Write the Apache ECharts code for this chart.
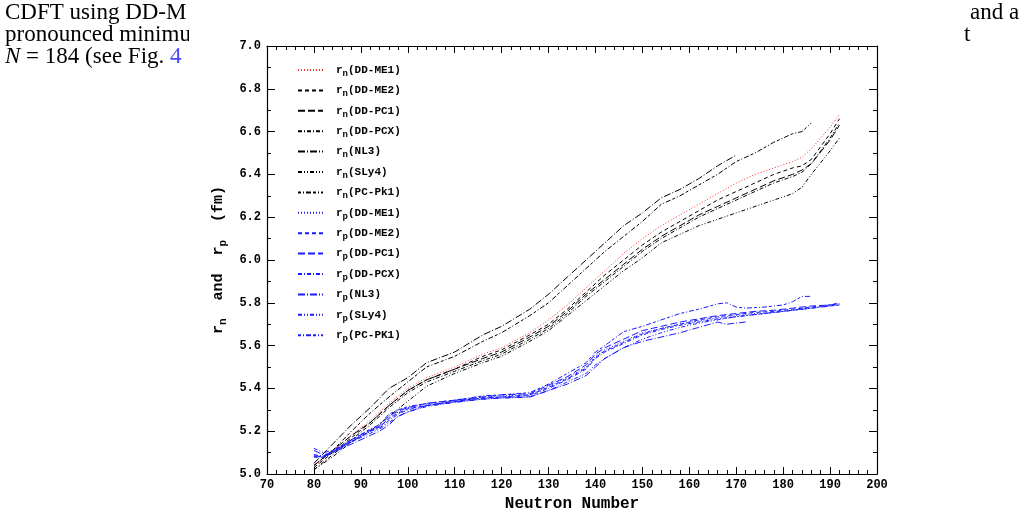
<!DOCTYPE html>
<html>
<head>
<meta charset="utf-8">
<script src="https://cdn.jsdelivr.net/npm/echarts@6/dist/echarts.min.js"></script>
<style>
  html, body { margin: 0; padding: 0; background: #fff; }
  #chart { width: 1027px; height: 514px; }
</style>
</head>
<body>
<div id="chart"></div>
<script>
// neutron radii r_n, [N, r (fm)]
const rnDDME1 = [[80,5.03],[84,5.11],[88,5.18],[92,5.25],[96,5.33],[100,5.40],[104,5.45],[110,5.50],[116,5.56],[120,5.59],[126,5.66],[130,5.72],[134,5.79],[138,5.87],[142,5.95],[146,6.03],[150,6.10],[154,6.16],[158,6.21],[162,6.26],[166,6.31],[170,6.36],[174,6.40],[178,6.43],[182,6.46],[184,6.48],[186,6.52],[190,6.62],[192,6.68]];
const rnDDME2 = [[80,5.03],[84,5.10],[88,5.17],[92,5.24],[96,5.32],[100,5.39],[104,5.44],[110,5.49],[116,5.55],[120,5.58],[126,5.65],[130,5.70],[134,5.77],[138,5.85],[142,5.93],[146,6.00],[150,6.07],[154,6.13],[158,6.18],[162,6.23],[166,6.28],[170,6.32],[174,6.36],[178,6.40],[182,6.43],[184,6.44],[186,6.47],[190,6.59],[192,6.66]];
const rnDDPC1 = [[80,5.04],[84,5.11],[88,5.18],[92,5.24],[96,5.32],[100,5.39],[104,5.44],[110,5.49],[116,5.54],[120,5.57],[126,5.64],[130,5.69],[134,5.76],[138,5.84],[142,5.91],[146,5.98],[150,6.05],[154,6.11],[158,6.16],[162,6.21],[166,6.25],[170,6.29],[174,6.33],[178,6.37],[182,6.40],[184,6.42],[186,6.45],[190,6.56],[192,6.63]];
const rnDDPCX = [[80,5.02],[84,5.09],[88,5.16],[92,5.23],[96,5.31],[100,5.38],[104,5.43],[110,5.48],[116,5.53],[120,5.56],[126,5.63],[130,5.68],[134,5.75],[138,5.83],[142,5.90],[146,5.97],[150,6.04],[154,6.10],[158,6.15],[162,6.20],[166,6.24],[170,6.28],[174,6.32],[178,6.36],[182,6.39],[184,6.41],[186,6.45],[190,6.57],[192,6.64]];
const rnNL3 = [[80,5.05],[84,5.14],[88,5.23],[92,5.31],[96,5.40],[100,5.45],[104,5.52],[110,5.57],[116,5.65],[120,5.69],[126,5.77],[130,5.84],[134,5.92],[138,6.00],[142,6.08],[146,6.16],[150,6.22],[154,6.29],[158,6.33],[162,6.38],[166,6.44],[170,6.49]];
const rnSLy4 = [[80,5.02],[84,5.08],[88,5.15],[92,5.20],[96,5.27],[100,5.34],[104,5.41],[110,5.47],[116,5.52],[120,5.55],[126,5.62],[130,5.67],[134,5.74],[138,5.81],[142,5.88],[146,5.95],[150,6.01],[154,6.08],[158,6.12],[162,6.16],[166,6.19],[170,6.22],[174,6.25],[178,6.28],[182,6.31],[184,6.34],[186,6.40],[190,6.51],[192,6.57]];
const rnPCPK1 = [[80,5.04],[84,5.11],[88,5.20],[92,5.285],[96,5.36],[100,5.43],[104,5.50],[110,5.55],[116,5.62],[120,5.66],[126,5.74],[130,5.80],[134,5.88],[138,5.96],[142,6.04],[146,6.11],[150,6.18],[154,6.26],[158,6.30],[162,6.35],[166,6.40],[170,6.46],[174,6.50],[178,6.55],[182,6.59],[184,6.60],[186,6.64]];

// proton radii r_p
const rpDDME1 = [[80,5.09],[82,5.08],[84,5.10],[88,5.15],[92,5.20],[94,5.22],[96,5.26],[98,5.29],[100,5.31],[104,5.325],[110,5.34],[116,5.36],[120,5.365],[126,5.37],[130,5.41],[134,5.45],[138,5.50],[140,5.55],[142,5.58],[146,5.62],[150,5.66],[154,5.68],[158,5.70],[162,5.715],[166,5.73],[170,5.74],[174,5.75],[178,5.755],[182,5.765],[186,5.775],[190,5.79],[192,5.795]];
const rpDDME2 = [[80,5.08],[82,5.075],[84,5.10],[88,5.15],[92,5.20],[94,5.22],[96,5.26],[98,5.285],[100,5.305],[104,5.32],[110,5.34],[116,5.355],[120,5.36],[126,5.37],[130,5.405],[134,5.445],[138,5.495],[140,5.545],[142,5.575],[146,5.615],[150,5.655],[154,5.68],[158,5.70],[162,5.72],[166,5.735],[170,5.745],[174,5.755],[178,5.76],[182,5.77],[186,5.78],[190,5.79],[192,5.80]];
const rpDDPC1 = [[80,5.085],[82,5.08],[84,5.10],[88,5.16],[92,5.205],[94,5.225],[96,5.27],[98,5.295],[100,5.31],[104,5.33],[110,5.345],[116,5.36],[120,5.37],[126,5.375],[130,5.415],[134,5.455],[138,5.51],[140,5.56],[142,5.59],[146,5.63],[150,5.67],[154,5.69],[158,5.71],[162,5.725],[166,5.74],[170,5.75],[174,5.76],[178,5.765],[182,5.775],[186,5.785],[190,5.79],[192,5.795]];
const rpDDPCX = [[80,5.09],[82,5.085],[84,5.105],[88,5.155],[92,5.20],[94,5.215],[96,5.25],[98,5.28],[100,5.30],[104,5.32],[110,5.34],[116,5.355],[120,5.36],[126,5.365],[130,5.40],[134,5.44],[138,5.49],[140,5.54],[142,5.57],[146,5.61],[150,5.65],[154,5.675],[158,5.695],[162,5.71],[166,5.725],[170,5.735],[174,5.745],[178,5.755],[182,5.765],[186,5.775],[190,5.785],[192,5.79]];
const rpNL3 = [[80,5.11],[82,5.09],[84,5.10],[88,5.14],[92,5.18],[94,5.20],[96,5.23],[98,5.27],[100,5.29],[104,5.32],[110,5.335],[116,5.35],[120,5.355],[126,5.36],[130,5.39],[134,5.42],[138,5.46],[140,5.50],[142,5.54],[146,5.59],[150,5.62],[154,5.64],[158,5.66],[162,5.685],[166,5.71],[168,5.70],[170,5.705],[172,5.71]];
const rpSLy4 = [[80,5.12],[82,5.10],[84,5.11],[88,5.15],[92,5.19],[94,5.21],[96,5.24],[98,5.27],[100,5.29],[104,5.315],[110,5.335],[116,5.35],[120,5.355],[126,5.36],[130,5.39],[134,5.43],[138,5.47],[140,5.51],[142,5.54],[146,5.59],[150,5.63],[154,5.66],[158,5.685],[162,5.705],[166,5.72],[170,5.735],[174,5.745],[178,5.755],[182,5.765],[186,5.775],[190,5.785],[192,5.79]];
const rpPCPK1 = [[80,5.08],[82,5.08],[84,5.11],[88,5.16],[92,5.21],[94,5.23],[96,5.28],[98,5.30],[100,5.315],[104,5.33],[110,5.345],[116,5.365],[120,5.37],[126,5.38],[130,5.42],[134,5.47],[138,5.52],[140,5.57],[142,5.60],[146,5.665],[150,5.69],[154,5.72],[158,5.75],[162,5.77],[166,5.795],[168,5.80],[170,5.78],[172,5.775],[176,5.78],[180,5.79],[182,5.805],[184,5.83],[186,5.83]];

const seriesNames = ["r_n(DD-ME1)","r_n(DD-ME2)","r_n(DD-PC1)","r_n(DD-PCX)","r_n(NL3)","r_n(SLy4)","r_n(PC-Pk1)",
                     "r_p(DD-ME1)","r_p(DD-ME2)","r_p(DD-PC1)","r_p(DD-PCX)","r_p(NL3)","r_p(SLy4)","r_p(PC-PK1)"];
const seriesData = [rnDDME1, rnDDME2, rnDDPC1, rnDDPCX, rnNL3, rnSLy4, rnPCPK1,
                    rpDDME1, rpDDME2, rpDDPC1, rpDDPCX, rpNL3, rpSLy4, rpPCPK1];

const dashes = [[1, 2], [4, 3], [7, 3], [4, 2, 1, 2], [7, 2, 1, 2], [4, 2, 1, 2, 1, 2], [3, 2, 1, 2, 5, 2]];
const monoFont = "Liberation Mono";
const serifFont = '23px "Liberation Serif"';

let series = [];
for (let i = 0; i < seriesNames.length; i++) {
  let k = i % 7;
  let color = i < 7 ? (k === 0 ? "#ff3030" : "#000") : "#1a1aff";
  series.push({
    name: seriesNames[i],
    type: "line",
    data: seriesData[i],
    symbol: "none",
    showSymbol: false,
    smooth: false,
    lineStyle: { color: color, width: 1, type: dashes[k] },
    itemStyle: { color: color },
    emphasis: { disabled: true }
  });
}

const axisCommon = {
  type: "value",
  axisLine: { show: true, onZero: false, lineStyle: { color: "#000", width: 1.2 } },
  axisTick: { show: true, inside: true, length: 8, lineStyle: { color: "#000" } },
  minorTick: { show: true, length: 4, lineStyle: { color: "#000" } },
  splitLine: { show: false },
  minorSplitLine: { show: false }
};

let myChart = echarts.init(document.getElementById("chart"), null, { renderer: "canvas" });
let option = {
  animation: false,
  backgroundColor: "#fff",
  grid: { left: 267, right: 150, top: 46, bottom: 40, containLabel: false, outerBoundsMode: "none" },
  legend: {
    orient: "vertical",
    left: 297,
    top: 62,
    padding: 0,
    itemWidth: 25,
    itemHeight: 10,
    itemGap: 4.4,
    itemStyle: { opacity: 0 },
    selectedMode: false,
    data: seriesNames,
    formatter: function (name) {
      let sub = name.charAt(2);
      return "{b|r}{s|" + sub + "}{b|" + name.slice(3) + "}";
    },
    textStyle: {
      padding: [0, 0, 0, 8],
      rich: {
        b: { fontFamily: monoFont, fontWeight: "bold", fontSize: 11, color: "#000", lineHeight: 12 },
        s: { fontFamily: monoFont, fontWeight: "bold", fontSize: 9, color: "#000", padding: [7, 0, 0, 0], lineHeight: 12 }
      }
    }
  },
  xAxis: [
    Object.assign({}, axisCommon, {
      min: 70, max: 200, interval: 10, position: "bottom",
      minorTick: { show: true, splitNumber: 5, length: 4, lineStyle: { color: "#000" } },
      axisTick: { show: true, inside: true, length: 7, lineStyle: { color: "#000" } },
      axisLabel: { show: true, margin: 5, fontFamily: monoFont, fontWeight: "bold", fontSize: 12, color: "#000" },
      name: "Neutron Number",
      nameLocation: "middle",
      nameGap: 21,
      nameTextStyle: { fontFamily: monoFont, fontWeight: "bold", fontSize: 16, color: "#000" }
    }),
    Object.assign({}, axisCommon, {
      min: 70, max: 200, interval: 10, position: "top",
      minorTick: { show: true, splitNumber: 5, length: 4, lineStyle: { color: "#000" } },
      axisTick: { show: true, inside: true, length: 7, lineStyle: { color: "#000" } },
      axisLabel: { show: false }
    })
  ],
  yAxis: [
    Object.assign({}, axisCommon, {
      min: 5.0, max: 7.0, interval: 0.2, position: "left",
      minorTick: { show: true, splitNumber: 2, length: 4, lineStyle: { color: "#000" } },
      axisLabel: {
        show: true, margin: 6, fontFamily: monoFont, fontWeight: "bold", fontSize: 12, color: "#000",
        formatter: function (v) { return v.toFixed(1); }
      },
      name: "{b|r}{s|n}{b|  and  r}{s|p}{b|  (fm)}",
      nameLocation: "middle",
      nameRotate: 90,
      nameGap: 35,
      nameTextStyle: {
        rich: {
          b: { fontFamily: monoFont, fontWeight: "bold", fontSize: 15, color: "#000", lineHeight: 18 },
          s: { fontFamily: monoFont, fontWeight: "bold", fontSize: 11, color: "#000", padding: [9, 0, 0, 0], lineHeight: 18 }
        }
      }
    }),
    Object.assign({}, axisCommon, {
      min: 5.0, max: 7.0, interval: 0.2, position: "right",
      minorTick: { show: true, splitNumber: 2, length: 4, lineStyle: { color: "#000" } },
      axisLabel: { show: false }
    })
  ],
  graphic: [
    { type: "text", left: 5, top: 1, style: { text: "CDFT using DD-M", font: serifFont, fill: "#000" } },
    { type: "text", left: 5, top: 23, style: { text: "pronounced minimum", font: serifFont, fill: "#000" } },
    {
      type: "text", left: 5, top: 45,
      style: {
        text: "{i|N} = 184 (see Fig. {c|4}",
        font: serifFont, fill: "#000",
        rich: {
          i: { fontFamily: "Liberation Serif", fontStyle: "italic", fontSize: 23, fill: "#000" },
          c: { fontFamily: "Liberation Serif", fontSize: 23, fill: "#4646ff" }
        }
      }
    },
    { type: "rect", shape: { x: 189, y: 0, width: 40, height: 75 }, style: { fill: "#fff" }, z: 100 },
    { type: "text", left: 970, top: 1, style: { text: "and a", font: serifFont, fill: "#000" } },
    { type: "text", left: 964, top: 23, style: { text: "t", font: serifFont, fill: "#000" } }
  ],
  series: series
};
myChart.setOption(option, true);
window.addEventListener("resize", () => {
  myChart.resize();
});
</script>
</body>
</html>
